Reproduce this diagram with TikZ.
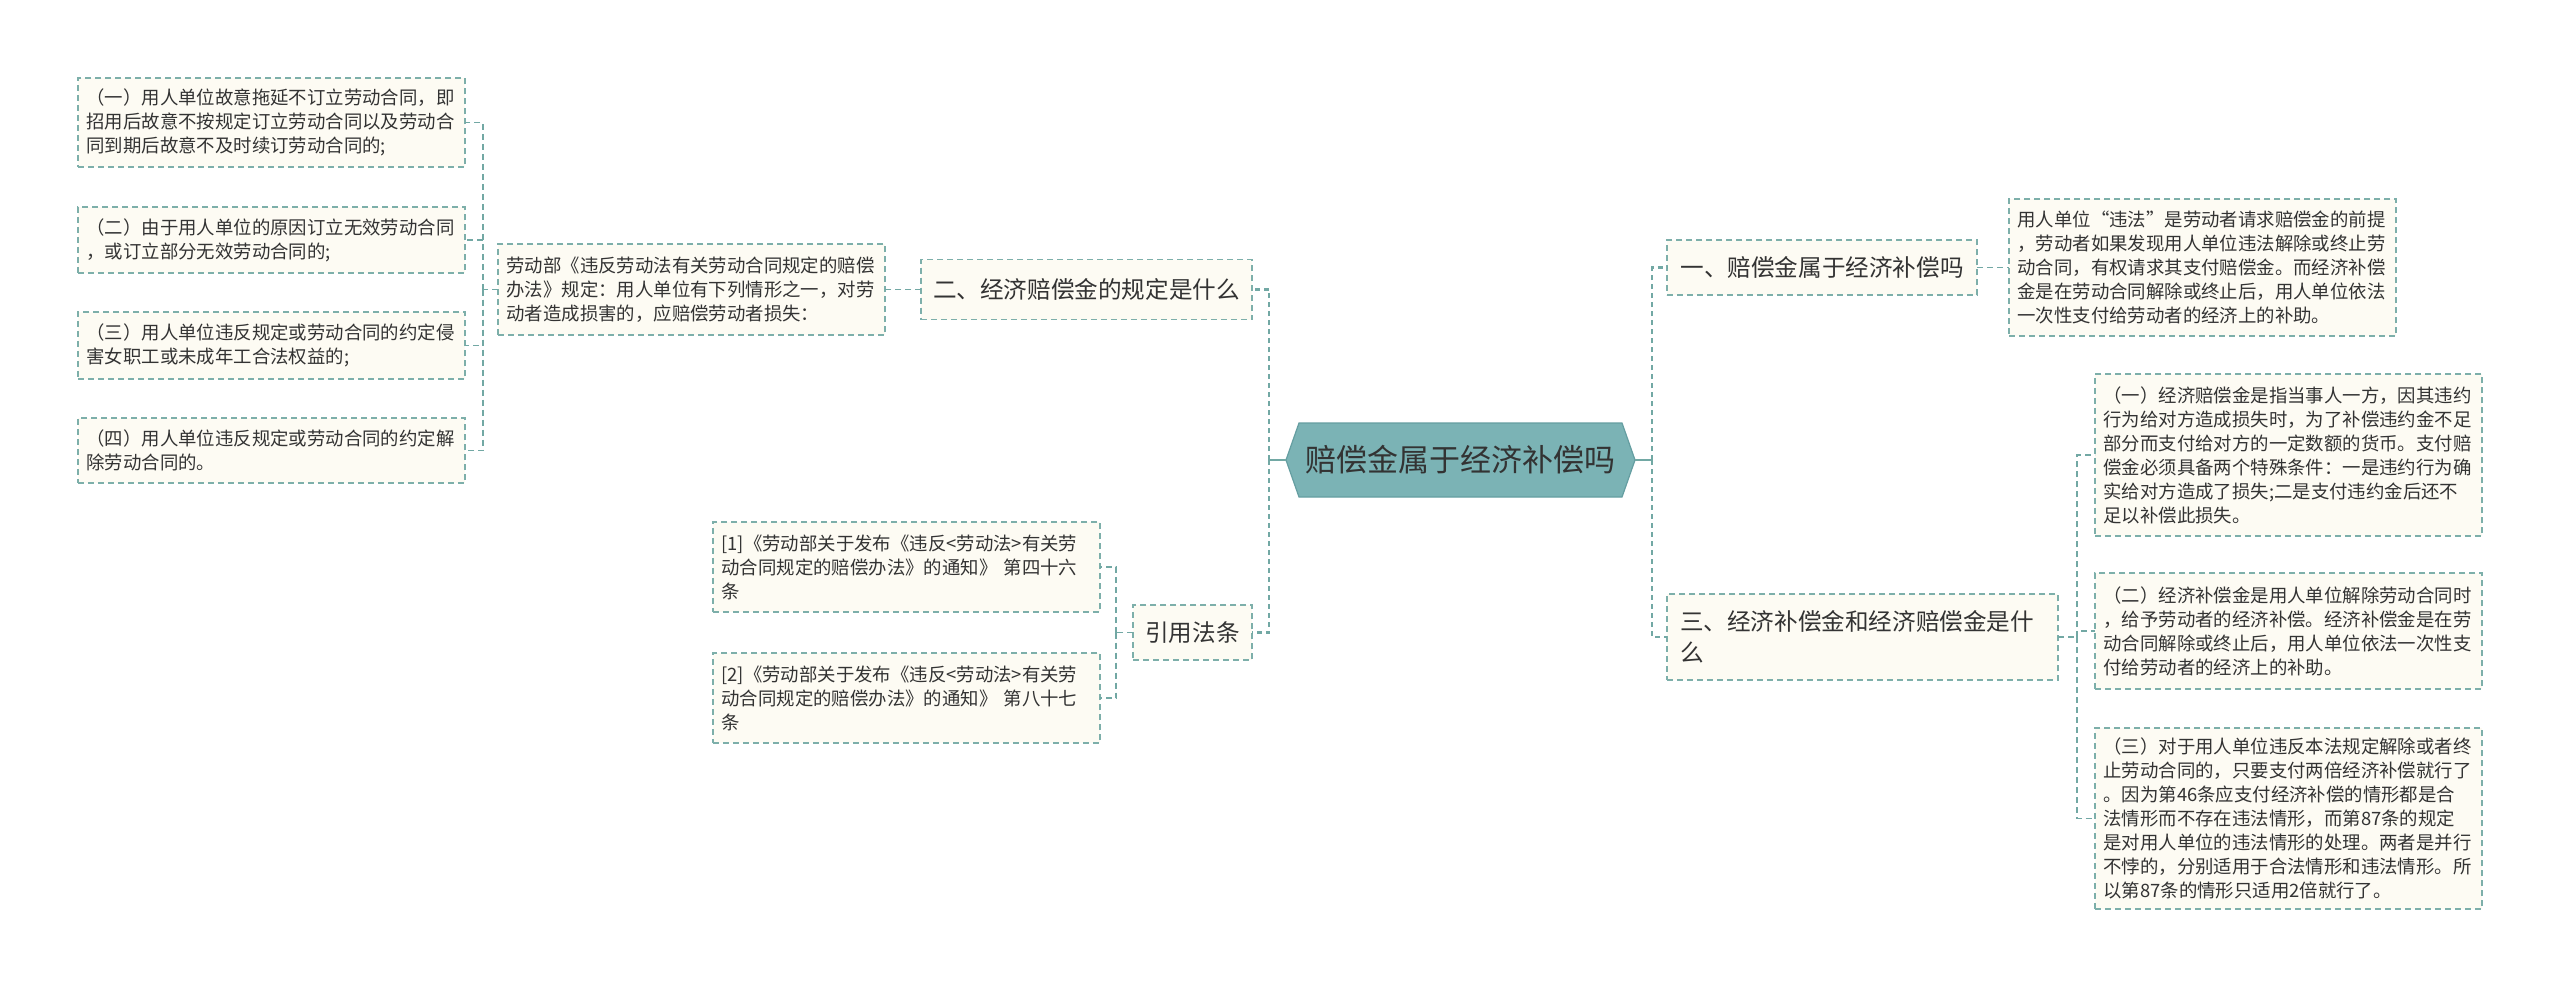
\documentclass[tikz,border=0pt]{standalone}
\usepackage{fontspec}
\setmainfont{Noto Sans CJK SC}
\usetikzlibrary{calc}
\setlength{\parindent}{0pt}
\definecolor{boxfill}{HTML}{FDFBF3}
\definecolor{boxline}{HTML}{7DAFAA}
\definecolor{connc}{HTML}{72A8A4}
\definecolor{hexfill}{HTML}{7BB3B5}
\definecolor{hexline}{HTML}{659EA1}
\definecolor{txt}{HTML}{333333}
\begin{document}
\begin{tikzpicture}[x=1pt,y=-1pt,
  every node/.style={text=txt},
  box/.style={draw=boxline, fill=boxfill, line width=1.3pt, dash pattern=on 6pt off 4pt, inner ysep=0pt, outer sep=0pt},
  leafbox/.style={box, font=\fontsize{18.4}{24}\selectfont, align=left, text width=370pt, inner xsep=8.5pt},
  branchbox/.style={box, font=\fontsize{23.6}{31}\selectfont, inner xsep=12pt},
  conn/.style={draw=connc, line width=1.6pt, dash pattern=on 6pt off 4pt},
  trunk/.style={draw=connc, line width=2.4pt, dash pattern=on 5pt off 4pt},
  trunksolid/.style={draw=connc, line width=2.4pt}
]
\useasboundingbox[fill=white] (0,0) rectangle (2560,991);

% central hexagon
\filldraw[fill=hexfill, draw=hexline, line width=1.2pt]
  (1286,460) -- (1299,423) -- (1622,423) -- (1635,460) -- (1622,497) -- (1299,497) -- cycle;
\node[inner sep=0pt, outer sep=0pt, minimum width=349pt, minimum height=74pt,
  font=\fontsize{31}{36}\selectfont] (c) at (1460.5,460) {赔偿金属于经济补偿吗};

% right branches
\node[branchbox, anchor=west, minimum width=310pt, minimum height=55pt] (b1) at (1667,267.5) {一、赔偿金属于经济补偿吗};
\node[branchbox, anchor=west, align=left, text width=365pt, inner xsep=13pt, minimum height=86pt] (b3) at (1667,637) {三、经济补偿金和经济赔偿金是什\\么};

% left branches
\node[branchbox, anchor=east, minimum width=331pt, minimum height=60pt] (b2) at (1252,289.5) {二、经济赔偿金的规定是什么};
\node[branchbox, anchor=east, minimum width=119pt, minimum height=55pt] (yy) at (1252,632.5) {引用法条};

% right leaves
\node[leafbox, anchor=west, minimum height=137pt] (r0) at (2009,267.5) {用人单位“违法”是劳动者请求赔偿金的前提\\，劳动者如果发现用人单位违法解除或终止劳\\动合同，有权请求其支付赔偿金。而经济补偿\\金是在劳动合同解除或终止后，用人单位依法\\一次性支付给劳动者的经济上的补助。};
\node[leafbox, anchor=west, minimum height=162pt] (ra) at (2095,455) {（一）经济赔偿金是指当事人一方，因其违约\\行为给对方造成损失时，为了补偿违约金不足\\部分而支付给对方的一定数额的货币。支付赔\\偿金必须具备两个特殊条件：一是违约行为确\\实给对方造成了损失;二是支付违约金后还不\\足以补偿此损失。};
\node[leafbox, anchor=west, minimum height=116pt] (rb) at (2095,631) {（二）经济补偿金是用人单位解除劳动合同时\\，给予劳动者的经济补偿。经济补偿金是在劳\\动合同解除或终止后，用人单位依法一次性支\\付给劳动者的经济上的补助。};
\node[leafbox, anchor=west, minimum height=181pt] (rc) at (2095,818.5) {（三）对于用人单位违反本法规定解除或者终\\止劳动合同的，只要支付两倍经济补偿就行了\\。因为第46条应支付经济补偿的情形都是合\\法情形而不存在违法情形，而第87条的规定\\是对用人单位的违法情形的处理。两者是并行\\不悖的，分别适用于合法情形和违法情形。所\\以第87条的情形只适用2倍就行了。};

% left leaves
\node[leafbox, anchor=west, minimum height=91pt] (L0) at (498,289.5) {劳动部《违反劳动法有关劳动合同规定的赔偿\\办法》规定：用人单位有下列情形之一，对劳\\动者造成损害的，应赔偿劳动者损失：};
\node[leafbox, anchor=west, minimum height=89pt] (l1) at (78,122.5) {（一）用人单位故意拖延不订立劳动合同，即\\招用后故意不按规定订立劳动合同以及劳动合\\同到期后故意不及时续订劳动合同的;};
\node[leafbox, anchor=west, minimum height=66pt] (l2) at (78,240) {（二）由于用人单位的原因订立无效劳动合同\\，或订立部分无效劳动合同的;};
\node[leafbox, anchor=west, minimum height=67pt] (l3) at (78,345.5) {（三）用人单位违反规定或劳动合同的约定侵\\害女职工或未成年工合法权益的;};
\node[leafbox, anchor=west, minimum height=65pt] (l4) at (78,450.5) {（四）用人单位违反规定或劳动合同的约定解\\除劳动合同的。};
\node[leafbox, anchor=west, minimum height=90pt] (q1) at (713,567) {[1]《劳动部关于发布《违反<劳动法>有关劳\\动合同规定的赔偿办法》的通知》 第四十六\\条};
\node[leafbox, anchor=west, minimum height=90pt] (q2) at (713,698) {[2]《劳动部关于发布《违反<劳动法>有关劳\\动合同规定的赔偿办法》的通知》 第八十七\\条};

% connectors: centre to branches
\draw[trunksolid] (c.east) -- ++(17,0) coordinate (rj);
\draw[trunk] (rj) |- (b1.west);
\draw[trunk] (rj) |- (b3.west);
\draw[trunksolid] (c.west) -- ++(-17,0) coordinate (lj);
\draw[trunk] (lj) |- (b2.east);
\draw[trunk] (lj) |- (yy.east);

% branch to leaves
\draw[conn] (b1.east) -- (r0.west);
\draw[conn] (b3.east) -- ++(19,0) coordinate (j3);
\draw[conn] (j3) |- (ra.west);
\draw[conn] (j3) |- (rb.west);
\draw[conn] (j3) |- (rc.west);

\draw[conn] (b2.west) -- (L0.east);
\draw[conn] (L0.west) -- ++(-15,0) coordinate (jL);
\draw[conn] (jL) |- (l1.east);
\draw[conn] (jL) |- (l2.east);
\draw[conn] (jL) |- (l3.east);
\draw[conn] (jL) |- (l4.east);

\draw[conn] (yy.west) -- ++(-17,0) coordinate (jY);
\draw[conn] (jY) |- (q1.east);
\draw[conn] (jY) |- (q2.east);
\end{tikzpicture}
\end{document}
